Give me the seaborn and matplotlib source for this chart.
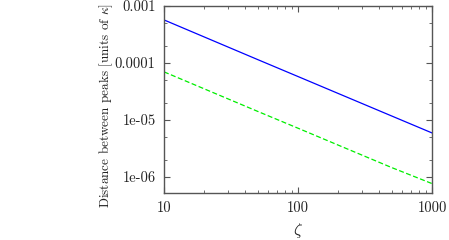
import numpy as np
import pandas as pd
import matplotlib
matplotlib.use('Agg')
import matplotlib.pyplot as plt
import matplotlib.ticker as mticker
import seaborn as sns

# values
zeta = [10, 20, 50, 100, 200, 500, 1000]
dist_blue = [5.7e-4, 2.86e-4, 1.15e-4, 5.8e-5, 2.92e-5, 1.18e-5, 5.95e-6]
dist_green = [7.0e-5, 3.52e-5, 1.42e-5, 7.2e-6, 3.63e-6, 1.47e-6, 7.7e-7]
ytick_vals = [1e-6, 1e-5, 1e-4, 1e-3]
ytick_labels = ['1e-06', '1e-05', '0.0001', '0.001']
xtick_vals = [10, 100, 1000]
xtick_labels = ['10', '100', '1000']

df = pd.DataFrame({
    'zeta': zeta * 2,
    'dist': dist_blue + dist_green,
    'series': ['a'] * len(zeta) + ['b'] * len(zeta),
})

sns.set_style('ticks')
plt.rcParams['font.family'] = ['cmr10', 'DejaVu Serif']
plt.rcParams['mathtext.fontset'] = 'cm'
plt.rcParams['axes.unicode_minus'] = False

fig = plt.figure(figsize=(4.49, 2.40), dpi=100)
ax = fig.add_axes([0.3653, 0.1946, 0.5968, 0.7804])

sns.lineplot(data=df, x='zeta', y='dist', hue='series', style='series',
             palette={'a': '#0000ff', 'b': '#00ee00'},
             dashes={'a': '', 'b': (4, 2)}, linewidth=0.9,
             legend=False, ax=ax)

ax.set_xscale('log')
ax.set_yscale('log')
ax.set_xlim(10, 1000)
ax.set_ylim(5.2e-7, 1e-3)

ax.xaxis.set_major_locator(mticker.FixedLocator(xtick_vals))
ax.xaxis.set_major_formatter(mticker.FixedFormatter(xtick_labels))
ax.xaxis.set_minor_locator(mticker.LogLocator(base=10, subs=np.arange(2, 10)))
ax.xaxis.set_minor_formatter(mticker.NullFormatter())
ax.yaxis.set_major_locator(mticker.FixedLocator(ytick_vals))
ax.yaxis.set_major_formatter(mticker.FixedFormatter(ytick_labels))
ax.yaxis.set_minor_locator(mticker.LogLocator(base=10, subs=[2.0, 5.0]))
ax.yaxis.set_minor_formatter(mticker.NullFormatter())

for sp in ax.spines.values():
    sp.set_visible(True)
    sp.set_color('#555555')
    sp.set_linewidth(1.0)

ax.tick_params(which='both', direction='in', top=True, right=True,
               color='#555555', labelsize=10.5, labelcolor='#222222')
ax.tick_params(which='major', length=4, width=0.8, pad=6)
ax.tick_params(which='minor', length=2, width=0.6)

ax.set_xlabel(r'$\zeta$', fontsize=12, labelpad=4, color='#222222')
ax.set_ylabel(r'Distance between peaks [units of $\kappa$]', fontsize=9.5,
              color='#222222')
ax.yaxis.set_label_coords(-0.183, 0.47)

fig.savefig('out.png', dpi=100)
